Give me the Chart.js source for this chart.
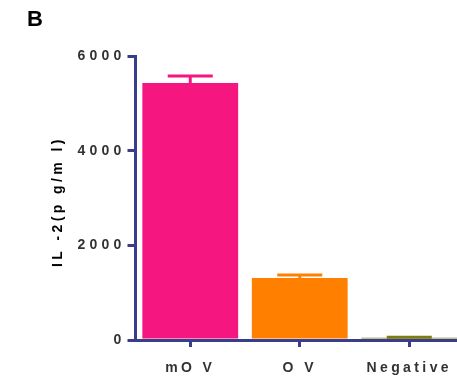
<!DOCTYPE html>
<html>
<head>
<meta charset="utf-8">
<script src="https://cdn.jsdelivr.net/npm/chart.js@4.4.1/dist/chart.umd.min.js"></script>
<style>
  html, body { margin: 0; padding: 0; background: #fff; overflow: hidden; }
  #wrap { position: relative; width: 470px; height: 378px; }
  #panel { position: absolute; left: 27px; top: 6px; font: bold 22px "Liberation Sans", Arial, sans-serif; color: #000; line-height: 26px; }
</style>
</head>
<body>
<div id="wrap">
  <canvas id="chart"></canvas>
  <div id="panel">B</div>
</div>
<script>
// IL-2 secretion per stimulation group (mean and upper SEM)
const categories = ['mO V', 'O V', 'Negative'];
const il2Mean = [5430, 1310, 45];
const il2Err = [150, 65, 15];
const yTicks = [0, 2000, 4000, 6000];
const barColors = ['#F6167F', '#FF8000', '#7D7D12'];

const axisColor = '#393D8C';
const fontFamily = '"Liberation Sans", Arial, sans-serif';

// One-sided error bars drawn from the error arrays through the chart scales
const errorBars = {
  id: 'errorBars',
  afterDatasetsDraw(chart) {
    const ctx = chart.ctx;
    const y = chart.scales.y;
    const meta = chart.getDatasetMeta(0);
    ctx.save();
    meta.data.forEach((bar, i) => {
      const top = y.getPixelForValue(il2Mean[i] + il2Err[i]);
      const base = y.getPixelForValue(il2Mean[i]);
      const half = bar.width * 0.235;
      ctx.strokeStyle = barColors[i];
      ctx.lineWidth = 3;
      ctx.beginPath();
      ctx.moveTo(bar.x, base);
      ctx.lineTo(bar.x, top);
      ctx.moveTo(bar.x - half, top);
      ctx.lineTo(bar.x + half, top);
      ctx.stroke();
    });
    ctx.restore();
    // value labels on the y axis (drawn after the datasets) use wider tracking
    ctx.letterSpacing = '4.2px';
  }
};

// Tracking for the axis title and the category labels
const spacing = {
  id: 'spacing',
  beforeDraw(chart) { chart.ctx.letterSpacing = '3.4px'; }
};

new Chart(document.getElementById('chart'), {
  type: 'bar',
  data: {
    labels: categories,
    datasets: [{
      data: il2Mean,
      backgroundColor: barColors,
      borderWidth: 0,
      barPercentage: 0.875,
      categoryPercentage: 1
    }]
  },
  options: {
    responsive: true,
    maintainAspectRatio: false,
    animation: false,
    layout: { padding: { left: 50, top: 56, right: 6, bottom: 0 } },
    plugins: { legend: { display: false }, tooltip: { enabled: false } },
    scales: {
      x: {
        border: { color: axisColor, width: 3 },
        grid: { display: true, drawOnChartArea: false, offset: false, color: axisColor, lineWidth: 3, tickLength: 7 },
        ticks: { color: '#333', padding: 13, font: { family: fontFamily, size: 14, weight: 'bold' } },
        afterFit(scale) { scale.height = 38; }
      },
      y: {
        min: 0,
        max: 6000,
        afterBuildTicks(scale) { scale.ticks = yTicks.map(v => ({ value: v })); },
        border: { color: axisColor, width: 3 },
        grid: { display: true, drawOnChartArea: false, color: axisColor, lineWidth: 3, tickLength: 8 },
        ticks: {
          z: 1,
          color: '#333',
          padding: 2,
          font: { family: fontFamily, size: 14, weight: 'bold' },
          callback: v => String(v)
        },
        title: {
          display: true,
          text: 'IL -2(p g/m l) ',
          color: '#000',
          padding: 0,
          font: { family: fontFamily, size: 14, weight: 'bold' }
        },
        afterFit(scale) { scale.width = 85.5; }
      }
    }
  },
  plugins: [spacing, errorBars]
});
</script>
</body>
</html>
